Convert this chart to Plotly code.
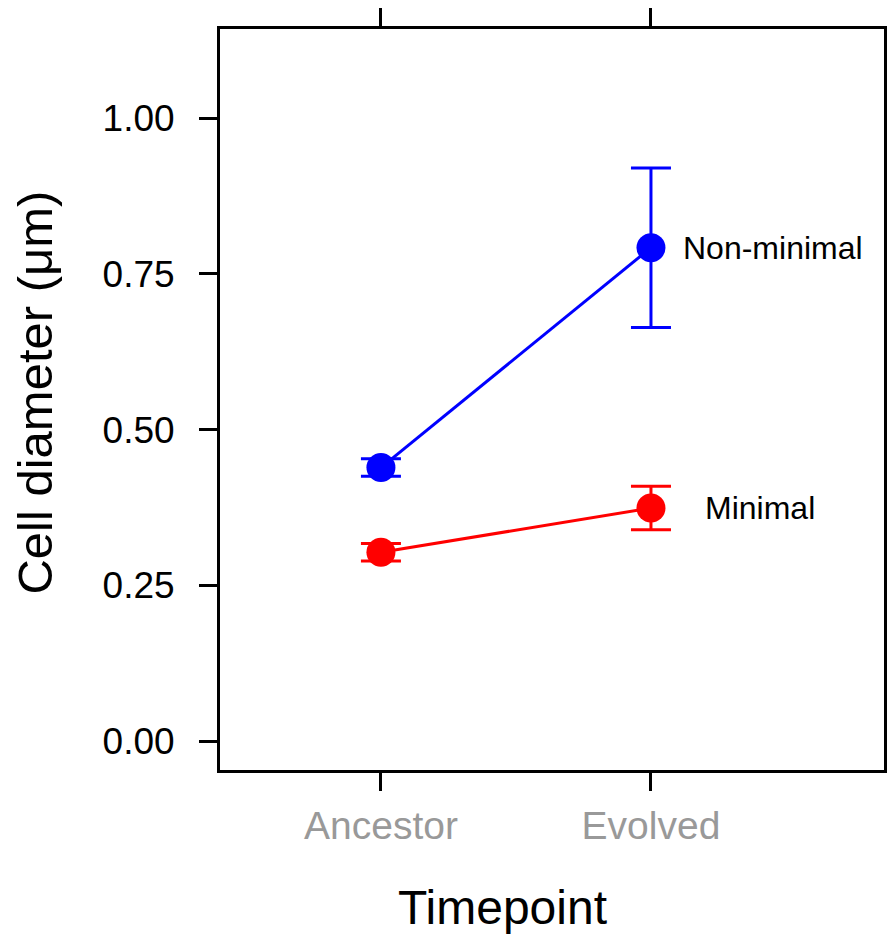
import plotly.graph_objects as go

timepoints = ["Ancestor", "Evolved"]
nonminimal_mean = [0.439, 0.792]
nonminimal_err = [0.014, 0.128]
minimal_mean = [0.303, 0.374]
minimal_err = [0.014, 0.035]
y_ticks = [0.0, 0.25, 0.5, 0.75, 1.0]
y_ticktext = ["0.00", "0.25", "0.50", "0.75", "1.00"]

FONT = "Liberation Sans, Arial, sans-serif"

fig = go.Figure()
for name, mean, err, color in [
    ("Non-minimal", nonminimal_mean, nonminimal_err, "#0000FF"),
    ("Minimal", minimal_mean, minimal_err, "#FF0000"),
]:
    fig.add_trace(go.Scatter(
        x=timepoints, y=mean, mode="lines+markers", name=name,
        line=dict(color=color, width=3),
        marker=dict(color=color, size=29, symbol="circle"),
        error_y=dict(type="data", array=err, visible=True, color=color,
                     thickness=3, width=20),
        showlegend=False,
    ))

fig.add_annotation(x=1, y=nonminimal_mean[1], text="Non-minimal", showarrow=False,
                   xanchor="left", xshift=30, font=dict(family=FONT, size=32, color="black"))
fig.add_annotation(x=1, y=minimal_mean[1], text="Minimal", showarrow=False,
                   xanchor="left", xshift=52, font=dict(family=FONT, size=32, color="black"))

# axis titles
fig.add_annotation(xref="paper", yref="paper", x=0.425, y=-0.186,
                   xanchor="center", yanchor="middle", showarrow=False,
                   text="Timepoint", font=dict(family=FONT, size=48, color="black"))
fig.add_annotation(xref="paper", yref="paper", x=-0.279, y=0.509,
                   xanchor="center", yanchor="middle", showarrow=False, textangle=-90,
                   text="Cell diameter (μm)", font=dict(family=FONT, size=49, color="black"))

fig.update_layout(
    width=887, height=926,
    margin=dict(l=212, r=11, t=21, b=164),
    plot_bgcolor="white", paper_bgcolor="white",
    font=dict(family=FONT, color="black"),
)
fig.update_xaxes(
    type="category", range=[-0.596, 1.863], automargin=False,
    showline=True, linecolor="black", linewidth=3, mirror="ticks",
    ticks="outside", ticklen=18, tickwidth=3, tickcolor="black",
    showgrid=False, zeroline=False,
    tickfont=dict(family=FONT, size=39, color="#999999"),
    ticklabelstandoff=1,
)
fig.update_yaxes(
    range=[-0.0465, 1.143], automargin=False,
    tickvals=y_ticks, ticktext=y_ticktext,
    showline=True, linecolor="black", linewidth=3, mirror="ticks",
    ticks="outside", ticklen=18, tickwidth=3, tickcolor="black",
    showgrid=False, zeroline=False,
    tickfont=dict(family=FONT, size=37, color="black"),
    ticklabelstandoff=17,
)

fig.write_html("out.html")
